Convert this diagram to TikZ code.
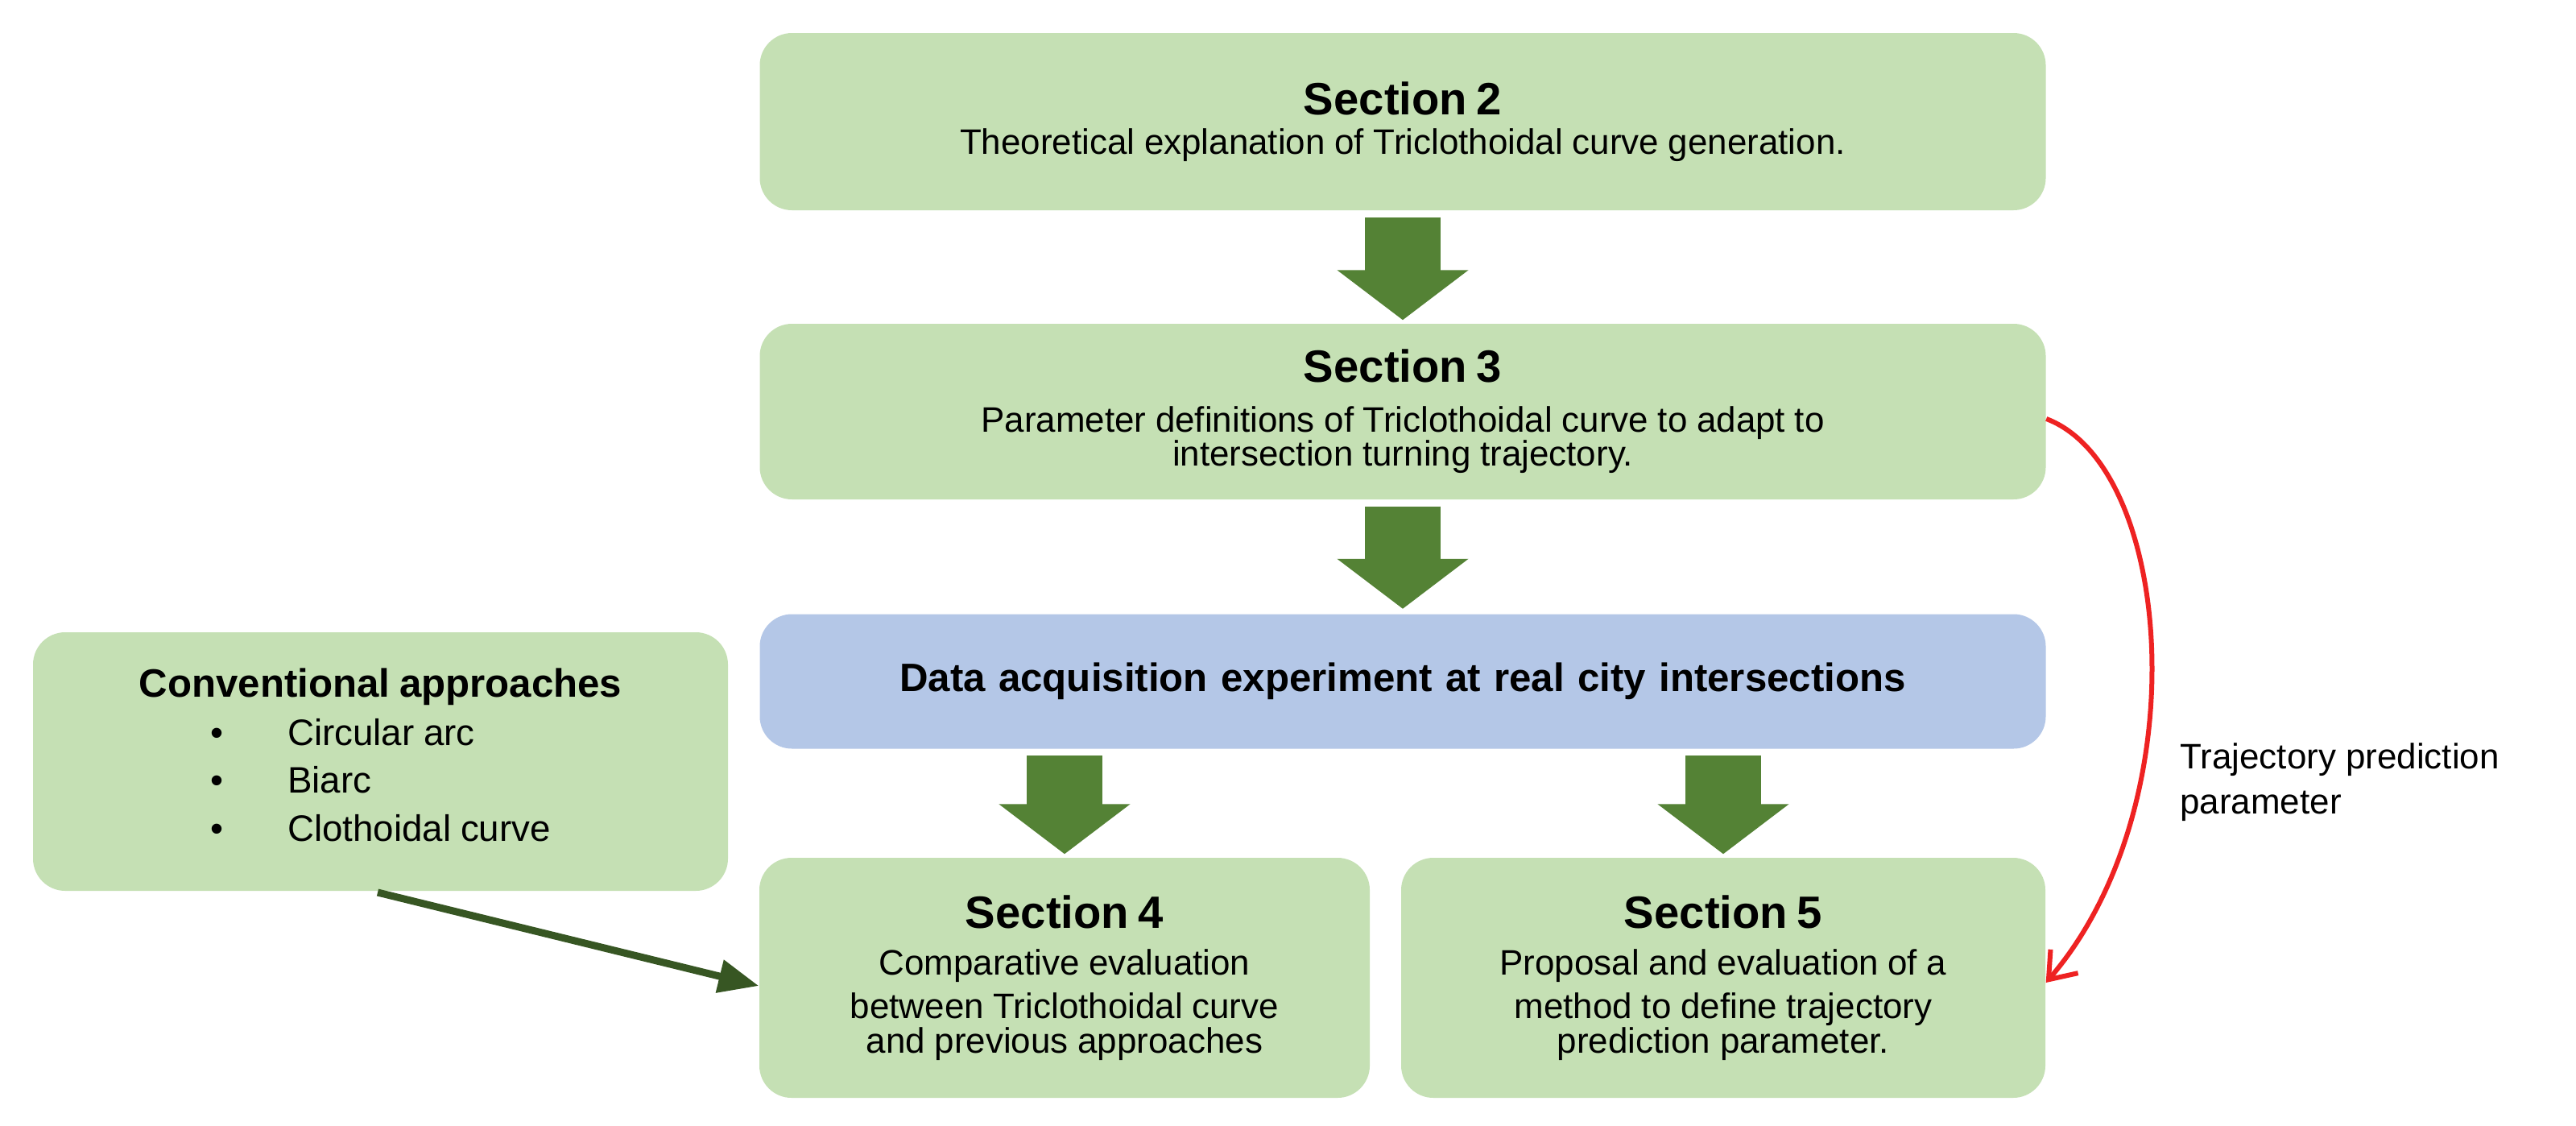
\documentclass[tikz,border=0pt]{standalone}
\usepackage{fontspec}
\setmainfont{Liberation Sans}
\usetikzlibrary{arrows.meta}
\definecolor{gfill}{HTML}{C5E0B4}
\definecolor{bfill}{HTML}{B4C7E7}
\definecolor{fatg}{HTML}{548235}
\definecolor{dkg}{HTML}{375623}
\definecolor{rd}{HTML}{EE2222}
\begin{document}
\begin{tikzpicture}[
 box/.style={rounded corners=0.4cm,inner sep=0pt,align=center,text width=#1},
 fat/.style={draw=fatg,line width=0.94cm,-{Triangle[length=0.62cm,width=1.6cm]}},
 st/.style={font=\fontsize{16}{19}\selectfont\bfseries},
 bt/.style={font=\fontsize{12.5}{15.5}\selectfont}]
\useasboundingbox[fill=white] (0,0) rectangle (31.99,-13.97);
\node[box=15.97cm,fill=gfill,minimum height=2.2cm] (s2) at (17.42,-1.51)
 {{\fontsize{16}{19}\selectfont\bfseries Section 2}\\[2pt]{\fontsize{12.5}{15}\selectfont Theoretical explanation of Triclothoidal curve generation.}};
\node[box=15.97cm,fill=gfill,minimum height=2.18cm] (s3) at (17.42,-5.11)
 {{\fontsize{16}{19}\selectfont\bfseries Section 3}\\[2pt]{\fontsize{12.5}{15.5}\selectfont Parameter definitions of Triclothoidal curve to adapt to\\intersection turning trajectory.}};
\node[box=15.97cm,fill=bfill,minimum height=1.67cm,font=\fontsize{14}{17}\selectfont\bfseries] (dat) at (17.42,-8.46)
 {Data acquisition experiment at real city intersections};
\node[box=7.58cm,fill=gfill,minimum height=2.98cm] (s4) at (13.22,-12.14)
 {{\fontsize{16}{19}\selectfont\bfseries Section 4}\\[1pt]{\fontsize{12.5}{15.5}\selectfont Comparative evaluation\\between Triclothoidal curve\\and previous approaches}};
\node[box=8.0cm,fill=gfill,minimum height=2.98cm] (s5) at (21.40,-12.14)
 {{\fontsize{16}{19}\selectfont\bfseries Section 5}\\[1pt]{\fontsize{12.5}{15.5}\selectfont Proposal and evaluation of a\\method to define trajectory\\prediction parameter.}};
\node[box=8.63cm,fill=gfill,minimum height=3.21cm] (cv) at (4.725,-9.455)
 {{\fontsize{14}{17}\selectfont\bfseries Conventional approaches}\\[2pt]
 \fontsize{13}{16}\selectfont
 \begin{tabular}{@{}l@{\hspace{0.8cm}}l@{}}
 \textbullet & Circular arc\\[1pt]
 \textbullet & Biarc\\[1pt]
 \textbullet & Clothoidal curve
 \end{tabular}\hspace*{2.3cm}};
\node[anchor=north west,align=left,font=\fontsize{12.5}{16}\selectfont] (lab) at (26.95,-9.1)
 {Trajectory prediction\\parameter};
\draw[fat,shorten <=0.08cm,shorten >=0.04cm] (s2) -- (s3);
\draw[fat,shorten <=0.08cm,shorten >=0.06cm] (s3) -- (dat);
\draw[fat,shorten <=0.08cm,shorten >=0.04cm] (dat.south -| s4.north) -- (s4.north);
\draw[fat,shorten <=0.08cm,shorten >=0.04cm] (dat.south -| s5.north) -- (s5.north);
\coordinate (cvs) at (4.69,-11.08);
\draw[dkg,line width=0.09cm,-{Triangle[length=0.5cm,width=0.4cm]}] (cvs) -- ([yshift=-0.1cm]s4.west);
\draw[rd,line width=0.06cm,-{Straight Barb[length=0.3cm,width=0.45cm]}]
 ([yshift=-0.09cm]s3.east) .. controls (27.0,-5.8) and (27.3,-10.0) .. ([yshift=-0.06cm]s5.east);
\end{tikzpicture}
\end{document}
